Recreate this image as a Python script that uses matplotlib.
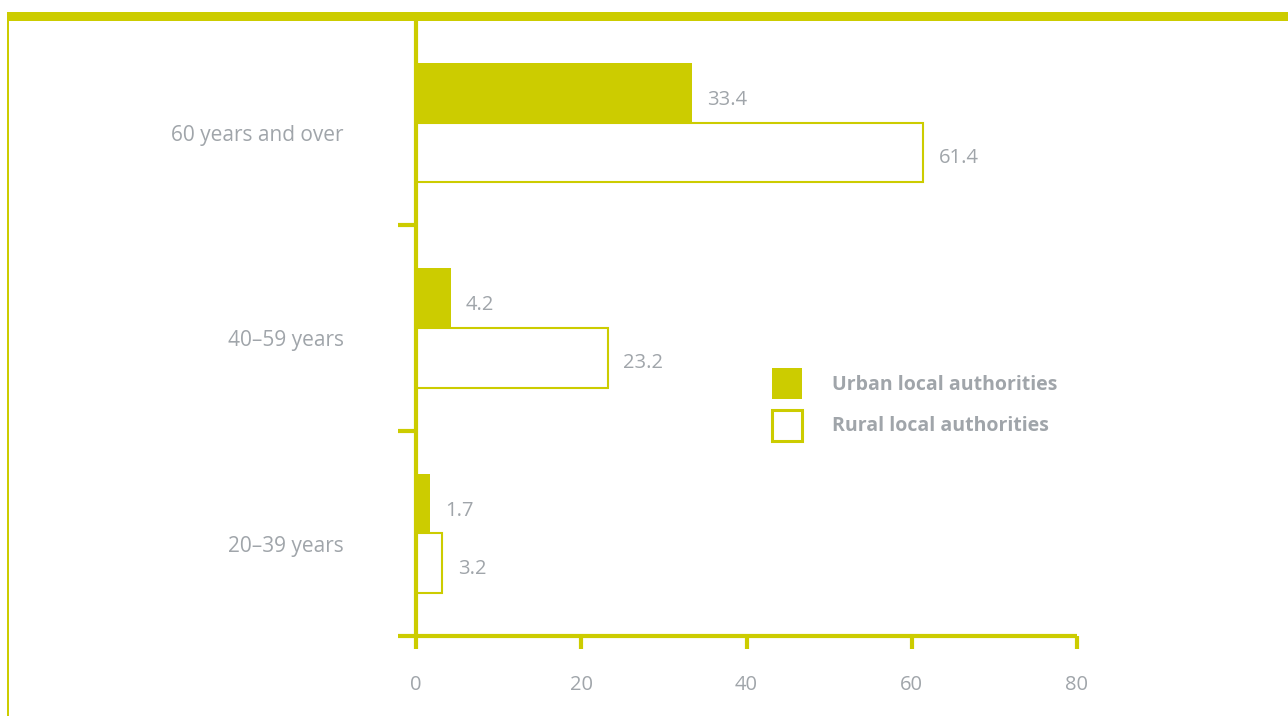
import matplotlib
matplotlib.use("Agg")
import matplotlib.pyplot as plt
from matplotlib.patches import Patch, Rectangle

categories = ["20–39 years", "40–59 years", "60 years and over"]
urban = [1.7, 4.2, 33.4]
rural = [3.2, 23.2, 61.4]
series_names = ["Urban local authorities", "Rural local authorities"]
xticks = [0, 20, 40, 60, 80]

YEL = "#CCCC00"
GREY = "#A0A5AA"
FONT = "Open Sans"

plt.rcParams["font.family"] = [FONT, "DejaVu Sans"]

fig = plt.figure(figsize=(12.88, 7.16), dpi=100)
W, H = 1288, 716
ax = fig.add_axes([416 / W, 1 - 636 / H, (1077 - 416) / W, (636 - 20) / H])

bh = 0.29
centers = [i + 0.5 for i in range(len(categories))]
ax.barh([c + bh / 2 for c in centers], urban, height=bh, color=YEL, edgecolor="none", zorder=2)
ax.barh([c - bh / 2 for c in centers], rural, height=bh, color="white", edgecolor=YEL, linewidth=1.5, zorder=2)

for c, u, r in zip(centers, urban, rural):
    ax.annotate(f"{u:.1f}", (u, c + bh / 2), xytext=(11, -5), textcoords="offset points",
                va="center", ha="left", color=GREY, fontsize=14.5)
    ax.annotate(f"{r:.1f}", (r, c - bh / 2), xytext=(11, -4), textcoords="offset points",
                va="center", ha="left", color=GREY, fontsize=14.5)

ax.set_xlim(0, 80)
ax.set_ylim(0, 3.0)

for s in ["top", "right"]:
    ax.spines[s].set_visible(False)
for s in ["left", "bottom"]:
    ax.spines[s].set_color(YEL)
    ax.spines[s].set_linewidth(3)
    ax.spines[s].set_capstyle("butt")

ax.set_xticks(xticks)
ax.set_xticklabels([str(t) for t in xticks])
ax.tick_params(axis="x", colors=YEL, labelcolor=GREY, length=9, width=3, pad=19, labelsize=14.5)

ax.set_yticks([0, 1, 2])
ax.set_yticklabels([])
ax.tick_params(axis="y", which="major", colors=YEL, length=13, width=3)
ax.set_yticks([c - 0.05 for c in centers], minor=True)
ax.set_yticklabels(categories, minor=True)
ax.tick_params(axis="y", which="minor", length=0, pad=52, labelcolor=GREY, labelsize=15)

handles = [Patch(facecolor=YEL, edgecolor=YEL, linewidth=0),
           Patch(facecolor="white", edgecolor=YEL, linewidth=2.2)]
leg = fig.legend(handles, series_names, loc="upper left", bbox_to_anchor=(772 / W, 1 - 368 / H),
                 frameon=False, borderpad=0, borderaxespad=0, handlelength=1.55, handleheight=2.07,
                 handletextpad=1.55, labelspacing=0.55, prop={"family": FONT, "weight": "bold", "size": 14})
for t in leg.get_texts():
    t.set_color(GREY)

# decorative frame: top band and left thin line
fig.add_artist(Rectangle((7 / W, 1 - 21 / H), 1 - 7 / W, 9 / H, transform=fig.transFigure,
                         facecolor=YEL, edgecolor="none"))
fig.add_artist(Rectangle((7 / W, 0), 2 / W, 1 - 12 / H, transform=fig.transFigure,
                         facecolor=YEL, edgecolor="none"))

fig.savefig("out.png", dpi=100)
